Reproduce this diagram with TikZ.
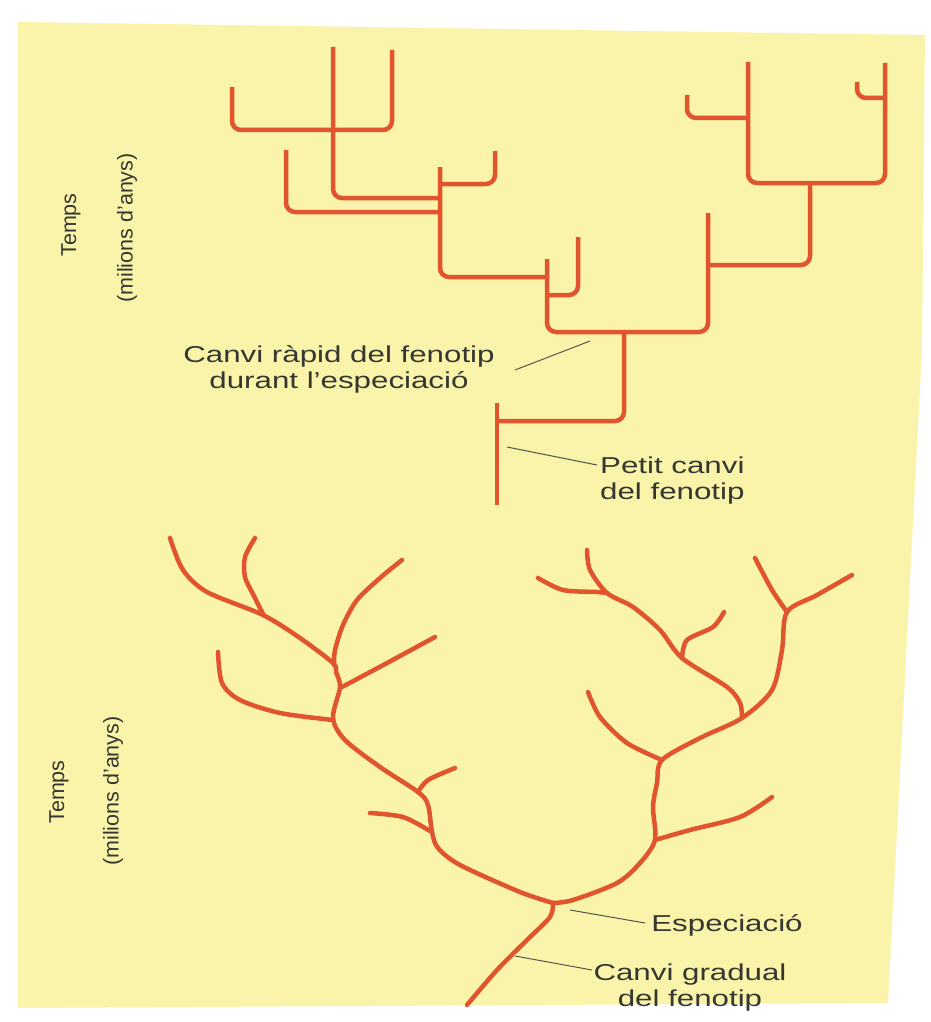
\documentclass[tikz,border=0pt]{standalone}
\usepackage{fontspec}
\setmainfont{Liberation Sans}
\definecolor{paper}{RGB}{250,243,170}
\definecolor{branchc}{RGB}{224,84,46}
\definecolor{ptrc}{RGB}{85,85,80}
\definecolor{textc}{RGB}{55,55,50}
\newcommand{\wide}[1]{\scalebox{1.36}[1]{#1}}
\begin{document}
\begin{tikzpicture}[x=1pt,y=-1pt,
  branch/.style={draw=branchc, line width=4.5pt, line join=round},
  sq/.style={branch, rounded corners=9pt},
  curvy/.style={branch, line cap=round},
  pointer/.style={draw=ptrc, line width=1pt},
  lbl/.style={text=textc, font=\fontsize{23}{26}\selectfont, inner sep=0pt},
  axlbl/.style={text=textc, font=\fontsize{21.5}{24}\selectfont, inner sep=0pt, rotate=90}]
\useasboundingbox (0,0) rectangle (931,1022);
\fill[white] (0,0) rectangle (931,1022);
\fill[paper] (18,22) -- (925,35) -- (922,350) -- (888,1003) -- (18,1008) -- cycle;

% ---------- top tree (punctuated) ----------
\draw[sq] (232,87) -- (232,130) -- (392,130) -- (392,50);
\draw[sq] (333,47) -- (333,198) -- (440,198);
\draw[sq] (286,150) -- (286,212) -- (440,212);
\draw[sq] (440,167) -- (440,277) -- (547,277);
\draw[sq] (440,184) -- (495,184) -- (495,151);
\draw[sq] (547,259) -- (547,332) -- (708,332) -- (708,213);
\draw[sq] (547,295) -- (578,295) -- (578,237);
\draw[sq] (624,332) -- (624,421) -- (497,421);
\draw[branch] (497,403) -- (497,505);
\draw[sq] (708,265) -- (810,265) -- (810,183);
\draw[sq] (748,62) -- (748,183) -- (885,183) -- (885,63);
\draw[sq] (748,118) -- (687,118) -- (687,95);
\draw[sq] (885,98) -- (857,98) -- (857,82);

% ---------- bottom tree (gradual) ----------
\draw[curvy] plot[smooth] coordinates {(467,1005) (497,970) (527,940) (550,917) (553,903)};
\draw[curvy] plot[smooth] coordinates {(553,903) (520,892) (460,865) (438,848) (432,832) (428,805) (418,792) (380,767) (345,740) (333,718) (340,687) (336,672) (333,663) (300,638) (263,615) (207,592) (183,570) (170,538)};
\draw[curvy] plot[smooth] coordinates {(255,538) (245,557) (245,577) (254,596) (263,614)};
\draw[curvy] plot[smooth] coordinates {(402,560) (380,578) (357,600) (343,625) (335,650) (334,665)};
\draw[curvy] plot[smooth] coordinates {(435,637) (387,663) (342,687)};
\draw[curvy] plot[smooth] coordinates {(218,652) (222,683) (240,700) (280,713) (333,720)};
\draw[curvy] plot[smooth] coordinates {(455,768) (428,780) (418,792)};
\draw[curvy] plot[smooth] coordinates {(370,813) (403,817) (430,831)};
\draw[curvy] plot[smooth] coordinates {(553,903) (573,900) (617,883) (640,863) (655,840) (653,807) (657,783) (662,760) (700,738) (742,718) (772,690) (782,650) (787,612) (817,595) (852,575)};
\draw[curvy] plot[smooth] coordinates {(755,558) (772,590) (787,612)};
\draw[curvy] plot[smooth] coordinates {(588,692) (600,717) (627,743) (662,760)};
\draw[curvy] plot[smooth] coordinates {(742,718) (740,703) (727,687) (682,658) (660,630) (633,607) (607,593) (590,570) (587,550)};
\draw[curvy] plot[smooth] coordinates {(538,578) (563,590) (597,592) (607,593)};
\draw[curvy] plot[smooth] coordinates {(724,612) (713,627) (687,640) (682,658)};
\draw[curvy] plot[smooth] coordinates {(772,797) (740,817) (690,830) (655,840)};

% ---------- labels ----------
\node[lbl] (rapid) at (339,370) {\wide{\begin{tabular}{@{}c@{}}Canvi ràpid del fenotip\\durant l'especiació\end{tabular}}};
\node[lbl, anchor=west] (petit) at (600,481) {\wide{\begin{tabular}{@{}l@{}}Petit canvi\\del fenotip\end{tabular}}};
\node[lbl] (espec) at (727,925) {\wide{Especiació}};
\node[lbl] (gradual) at (690,988) {\wide{\begin{tabular}{@{}c@{}}Canvi gradual\\del fenotip\end{tabular}}};

\node[axlbl] (temps1) at (71,225) {Temps};
\node[axlbl] (anys1) at (127,228) {(milions d'anys)};
\node[axlbl] (temps2) at (59,792) {Temps};
\node[axlbl] (anys2) at (113,791) {(milions d'anys)};

% ---------- pointers ----------
\coordinate (rapidA) at (515,370);
\coordinate (rapidB) at (590,341);
\coordinate (petitA) at (597,465);
\coordinate (petitB) at (507,447);
\coordinate (especA) at (645,923);
\coordinate (especB) at (570,910);
\coordinate (gradA) at (592,970);
\coordinate (gradB) at (515,956);
\draw[pointer] (rapidA) -- (rapidB);
\draw[pointer] (petitA) -- (petitB);
\draw[pointer] (especA) -- (especB);
\draw[pointer] (gradA) -- (gradB);
\end{tikzpicture}
\end{document}
